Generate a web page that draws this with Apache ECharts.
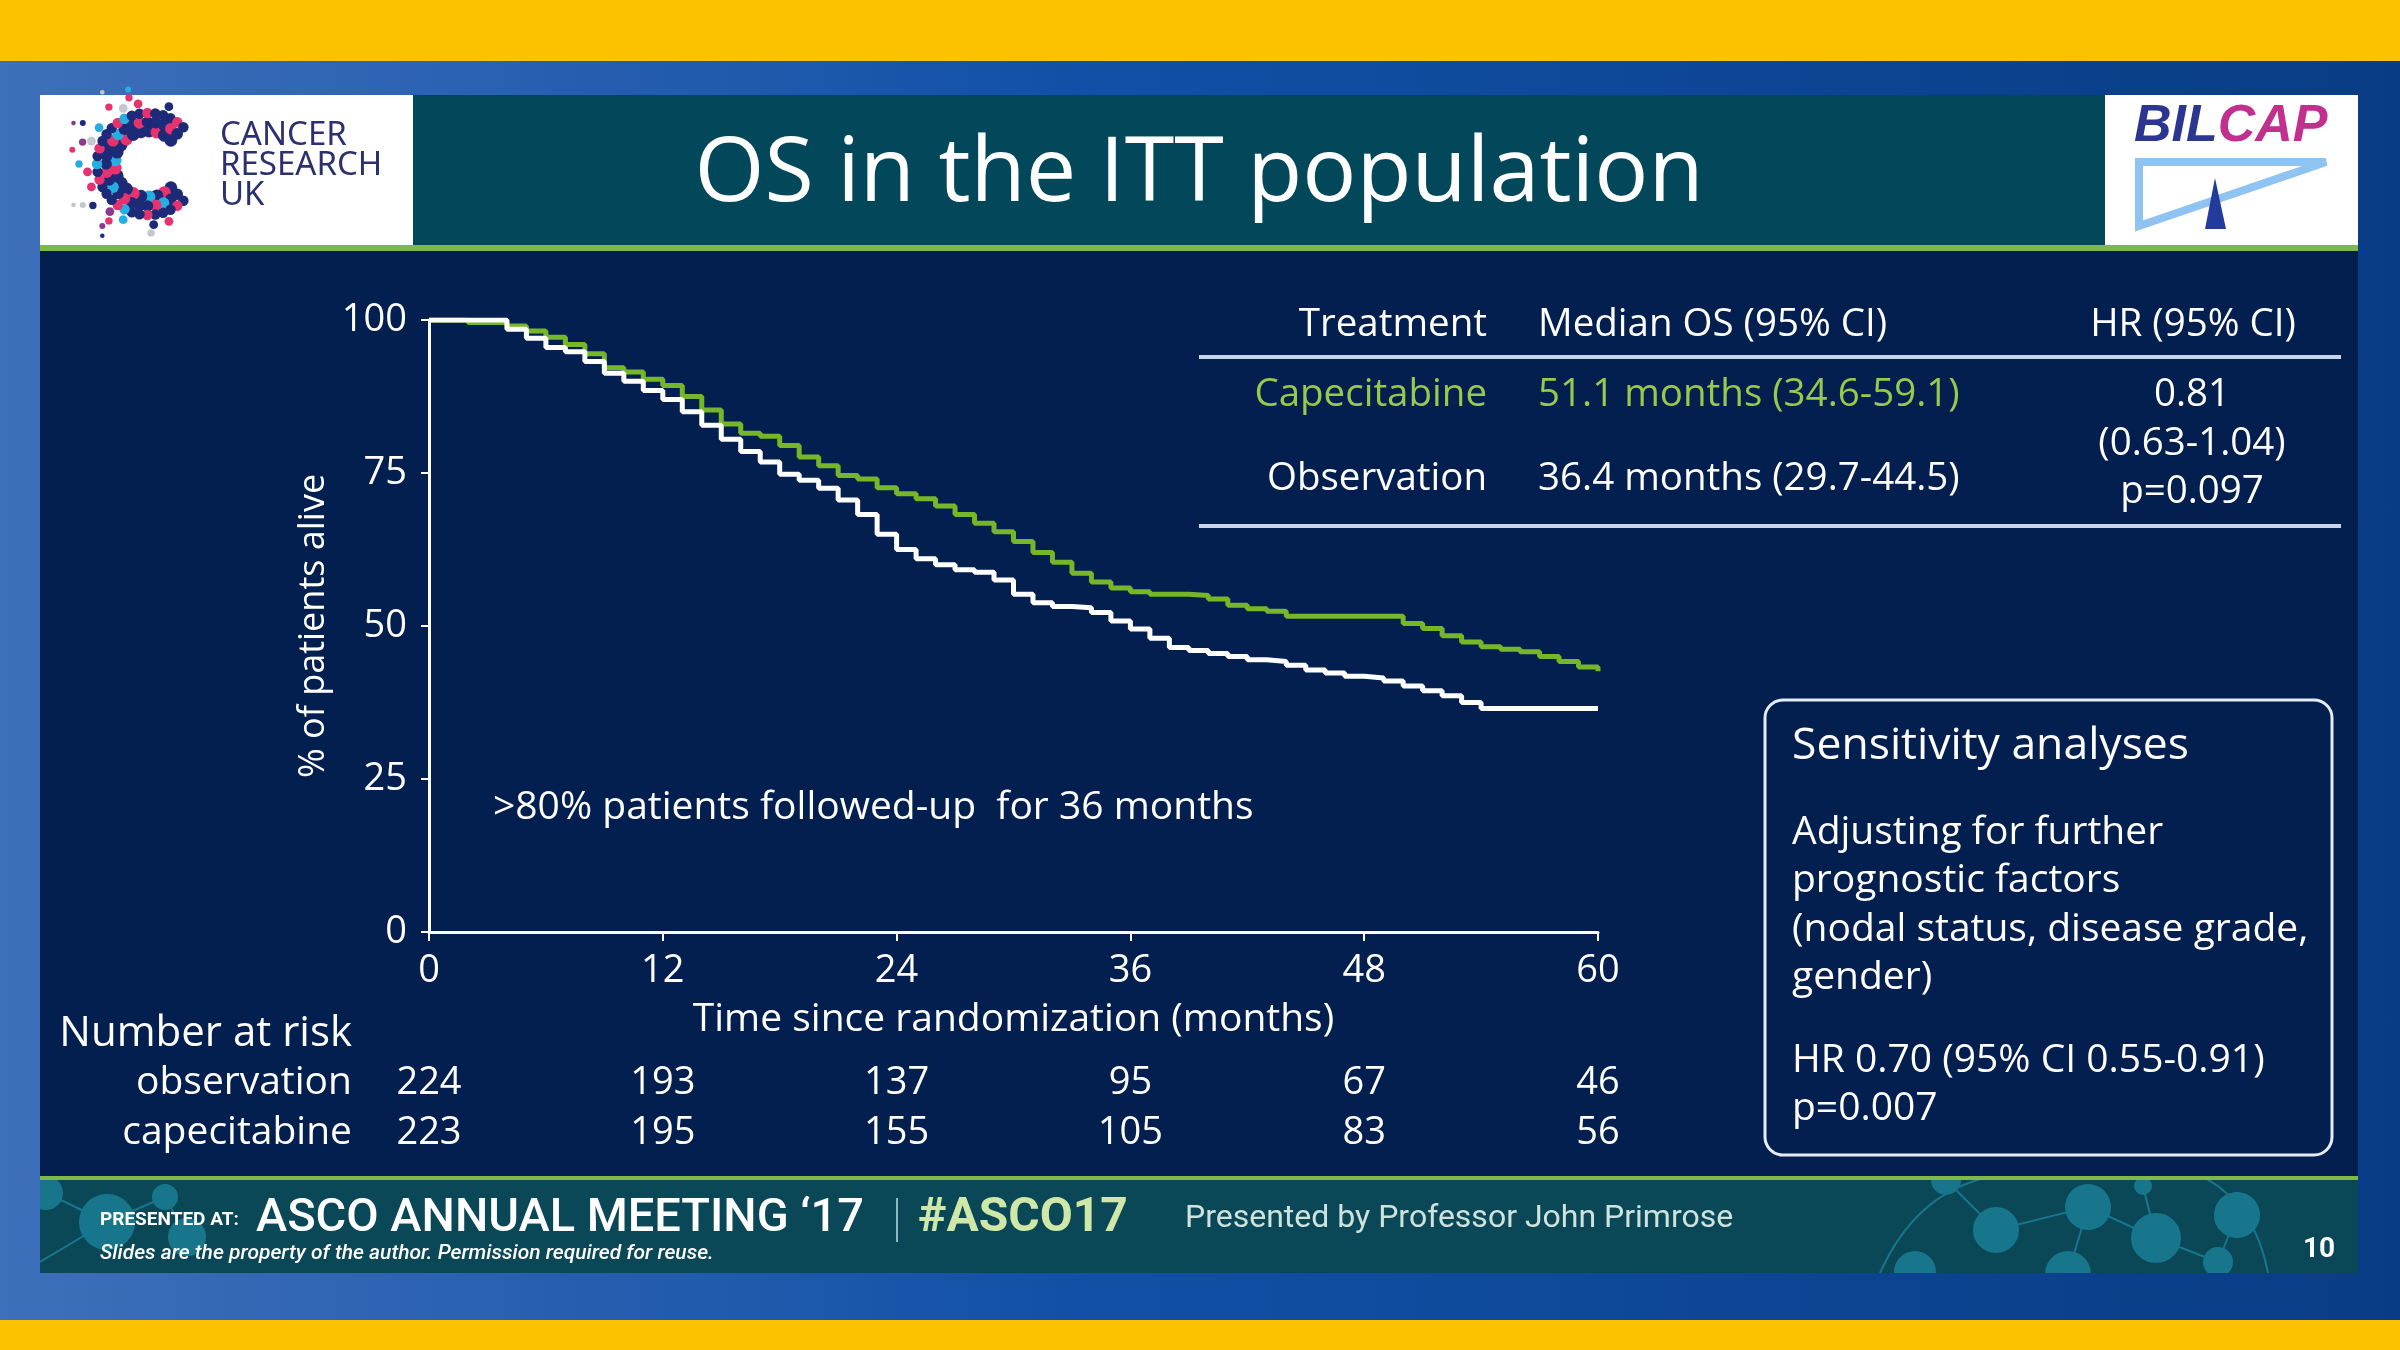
<!DOCTYPE html>
<html>
<head>
<meta charset="utf-8">
<script src="https://cdn.jsdelivr.net/npm/echarts@6/dist/echarts.min.js"></script>
<style>
  html, body { margin: 0; padding: 0; width: 2400px; height: 1350px; overflow: hidden; background: #fcc200; }
  #bg { position: absolute; left: 0; top: 0; }
  #chart { position: absolute; left: 0; top: 0; width: 2400px; height: 1350px; }
</style>
</head>
<body>
<svg id="bg" width="2400" height="1350" xmlns="http://www.w3.org/2000/svg">
  <defs>
    <linearGradient id="frameGrad" x1="0" x2="1" y1="0" y2="0">
      <stop offset="0" stop-color="#3e6fba"/>
      <stop offset="0.45" stop-color="#1150a6"/>
      <stop offset="1" stop-color="#093c84"/>
    </linearGradient>
    <clipPath id="footClip"><rect x="40" y="1180" width="2318" height="93"/></clipPath>
  </defs>
  <rect x="0" y="0" width="2400" height="61" fill="#fcc200"/>
  <rect x="0" y="61" width="2400" height="1259" fill="url(#frameGrad)"/>
  <rect x="0" y="1320" width="2400" height="30" fill="#fcc200"/>
  <!-- header -->
  <rect x="40" y="95" width="373" height="150" fill="#ffffff"/>
  <rect x="413" y="95" width="1692" height="150" fill="#03475a"/>
  <rect x="2105" y="95" width="253" height="150" fill="#ffffff"/>
  <rect x="40" y="245" width="2318" height="6" fill="#7dba4a"/>
  <!-- body -->
  <rect x="40" y="251" width="2318" height="925" fill="#021f4f"/>
  <!-- footer -->
  <rect x="40" y="1176" width="2318" height="4" fill="#7dba4a"/>
  <rect x="40" y="1180" width="2318" height="93" fill="#0a4757"/>
  <g clip-path="url(#footClip)" fill="#1a7f96" stroke="#1a7f96" stroke-width="2" opacity="0.85">
    <line x1="46" y1="1193" x2="107" y2="1222"/>
    <line x1="107" y1="1222" x2="165" y2="1197"/>
    <line x1="165" y1="1197" x2="187" y2="1237"/>
    <line x1="40" y1="1262" x2="107" y2="1222"/>
    <circle cx="107" cy="1222" r="27"/>
    <circle cx="165" cy="1197" r="12"/>
    <circle cx="187" cy="1237" r="18"/>
    <circle cx="46" cy="1193" r="16"/>
    <path d="M1880,1273 Q1915,1195 1985,1178" fill="none"/>
    <path d="M2268,1273 Q2255,1205 2205,1178" fill="none"/>
    <line x1="1946" y1="1180" x2="1996" y2="1230"/>
    <line x1="1996" y1="1230" x2="2088" y2="1207"/>
    <line x1="2088" y1="1207" x2="2156" y2="1238"/>
    <line x1="2156" y1="1238" x2="2218" y2="1262"/>
    <line x1="2068" y1="1274" x2="2088" y2="1207"/>
    <line x1="2143" y1="1186" x2="2156" y2="1238"/>
    <line x1="2237" y1="1215" x2="2218" y2="1262"/>
    <circle cx="1996" cy="1230" r="22"/>
    <circle cx="2088" cy="1207" r="22"/>
    <circle cx="2156" cy="1238" r="24"/>
    <circle cx="2237" cy="1215" r="22"/>
    <circle cx="2218" cy="1262" r="14"/>
    <circle cx="1915" cy="1272" r="20"/>
    <circle cx="2068" cy="1274" r="22"/>
    <circle cx="1946" cy="1180" r="14"/>
    <circle cx="2143" cy="1186" r="8"/>
  </g>
  <g id="crukDots"></g>
  <!-- BILCAP mark -->
  <polygon points="2139,162 2326,162 2139,226" fill="none" stroke="#8ec3f2" stroke-width="8"/>
  <polygon points="2215,178 2205,229 2226,229" fill="#233c9c"/>
  <!-- table rules and box -->
  <line x1="1199" y1="357" x2="2341" y2="357" stroke="#c9d5ea" stroke-width="4"/>
  <line x1="1199" y1="526" x2="2341" y2="526" stroke="#c9d5ea" stroke-width="4"/>
  <rect x="1765" y="700" width="567" height="455" rx="18" fill="none" stroke="#e6ecf5" stroke-width="3"/>
</svg>
<div id="chart"></div>
<script>
// Kaplan-Meier estimates, % alive by month
const months = [
  0, 1, 2, 3, 4, 5, 6, 7, 8, 9, 10, 11, 12, 13, 14, 15, 16, 17, 18, 19, 20,
  21, 22, 23, 24, 25, 26, 27, 28, 29, 30, 31, 32, 33, 34, 35, 36, 37, 38, 39, 40,
  41, 42, 43, 44, 45, 46, 47, 48, 49, 50, 51, 52, 53, 54, 55, 56, 57, 58, 59, 60
];
const observation = [
  100, 100, 100, 100, 98.5, 97, 95.5, 94.8, 93.2, 91.3, 90, 88.5, 87, 85, 82.8, 80.5, 78.5, 76.8, 74.8, 73.8, 72.5,
  70.6, 68.2, 65, 62.5, 61, 60, 59.2, 58.8, 57.5, 55.2, 53.8, 53.2, 53, 52.2, 50.8, 49.5, 48, 46.5, 46, 45.5,
  45, 44.5, 44.2, 43.6, 42.8, 42.3, 41.8, 41.5, 41, 40.2, 39.4, 38.6, 37.5, 36.5, 36.5, 36.5, 36.5, 36.5, 36.5, 36.5
];
const capecitabine = [
  100, 100, 99.6, 99.6, 99, 98.2, 97.2, 96, 94.5, 92.2, 91.5, 90.3, 89.3, 87.5, 85.3, 83, 81.5, 81, 79.5, 77.6, 76.2,
  74.6, 74, 72.6, 71.6, 70.8, 69.6, 68.2, 66.8, 65.4, 63.8, 62, 60.4, 58.6, 57.2, 56.2, 55.6, 55.2, 55.2, 55, 54.4,
  53.4, 52.8, 52.4, 51.6, 51.6, 51.6, 51.6, 51.6, 51.6, 50.4, 49.6, 48.4, 47.4, 46.6, 46.2, 45.8, 45, 44.2, 43.3, 42.6
];

// number at risk table
const riskMonths = [0, 12, 24, 36, 48, 60];
const riskObservation = [224, 193, 137, 95, 67, 46];
const riskCapecitabine = [223, 195, 155, 105, 83, 56];

const SANS = '"Open Sans", "Noto Sans", sans-serif';
const WHITE = '#ffffff';
const GREEN_LINE = '#76b72a';
const GREEN_TEXT = '#96c94c';

// Cancer Research UK logo dots (decoration only)
(function drawLogoDots() {
  const g = document.getElementById('crukDots');
  const cx = 148, cy = 164;
  const outer = ['#e6336f', '#c5c7d0', '#27aee0', '#1d2a78', '#e6336f', '#8b3a8f', '#c5c7d0'];
  let out = '';
  // thick navy C
  for (let ring = 0; ring < 3; ring++) {
    const r = 33 + ring * 9;
    const n = Math.round(r * 0.6);
    for (let k = 0; k < n; k++) {
      const t = (46 + (268 * k) / (n - 1)) * Math.PI / 180;
      const x = cx + r * Math.cos(t);
      const y = cy + r * Math.sin(t);
      const col = (k + ring * 2) % 4 === 1 ? '#e6336f' : ((k + ring) % 7 === 3 ? '#27aee0' : '#1d2a78');
      out += `<circle cx="${x.toFixed(1)}" cy="${y.toFixed(1)}" r="${(6.4 - ring * 0.6).toFixed(1)}" fill="${col}"/>`;
    }
  }
  // scattered outer dots
  for (let ring = 0; ring < 4; ring++) {
    const r = 61 + ring * 8;
    const span = 220 - ring * 35;
    const start = 180 - span / 2;
    const n = Math.round(span / (15 + ring * 4));
    for (let k = 0; k <= n; k++) {
      if ((k + ring) % 3 === 2) continue;
      const t = (start + (span * k) / n) * Math.PI / 180;
      const x = cx + r * Math.cos(t);
      const y = cy + r * Math.sin(t);
      out += `<circle cx="${x.toFixed(1)}" cy="${y.toFixed(1)}" r="${(4.4 - ring * 0.7).toFixed(1)}" fill="${outer[(k * 3 + ring) % outer.length]}"/>`;
    }
  }
  g.innerHTML = out;
})();

const chart = echarts.init(document.getElementById('chart'), null, { renderer: 'canvas' });

chart.setOption({
  backgroundColor: 'transparent',
  animation: false,
  grid: { left: 429, top: 320, width: 1169, height: 612 },
  xAxis: {
    type: 'value',
    min: 0,
    max: 60,
    interval: 12,
    axisLine: { lineStyle: { color: WHITE, width: 3 } },
    axisTick: { length: 9, lineStyle: { color: WHITE, width: 2 } },
    axisLabel: { color: WHITE, fontSize: 38, fontFamily: SANS, margin: 20 },
    splitLine: { show: false },
    name: 'Time since randomization (months)',
    nameLocation: 'middle',
    nameGap: 68,
    nameTextStyle: { color: WHITE, fontSize: 39, fontFamily: SANS }
  },
  yAxis: {
    type: 'value',
    min: 0,
    max: 100,
    interval: 25,
    axisLine: { show: true, lineStyle: { color: WHITE, width: 3 } },
    axisTick: { show: true, length: 8, lineStyle: { color: WHITE, width: 2 } },
    axisLabel: { color: WHITE, fontSize: 38, fontFamily: SANS, margin: 22 },
    splitLine: { show: false },
    name: '% of patients alive',
    nameLocation: 'middle',
    nameGap: 97,
    nameTextStyle: { color: WHITE, fontSize: 36, fontFamily: SANS }
  },
  series: [
    {
      name: 'Capecitabine',
      type: 'line',
      step: 'end',
      showSymbol: false,
      data: months.map((m, i) => [m, capecitabine[i]]),
      lineStyle: { color: GREEN_LINE, width: 5 },
      z: 3
    },
    {
      name: 'Observation',
      type: 'line',
      step: 'end',
      showSymbol: false,
      data: months.map((m, i) => [m, observation[i]]),
      lineStyle: { color: WHITE, width: 5 },
      z: 4
    }
  ]
});

function txt(text, x, y, size, opts) {
  const o = opts || {};
  return {
    type: 'text',
    x: x,
    y: y,
    z: 10,
    style: {
      text: text,
      fill: o.fill || WHITE,
      fontSize: size,
      fontFamily: o.family || SANS,
      fontWeight: o.weight || 'normal',
      fontStyle: o.style || 'normal',
      align: o.align || 'left',
      verticalAlign: 'middle'
    }
  };
}

const LOGO_FONT = '"Noto Sans", sans-serif';
const FOOT_FONT = 'Roboto, sans-serif';

const graphics = [
  // header
  txt('OS in the ITT population', 1199, 175, 90, { align: 'center' }),
  txt('CANCER', 220, 136, 33, { fill: '#2b3170', family: LOGO_FONT }),
  txt('RESEARCH', 220, 166, 33, { fill: '#2b3170', family: LOGO_FONT }),
  txt('UK', 220, 196, 33, { fill: '#2b3170', family: LOGO_FONT }),
  {
    type: 'text', x: 2134, y: 127, z: 10,
    style: {
      text: '{a|BIL}{b|CAP}',
      verticalAlign: 'middle',
      rich: {
        a: { fill: '#2c3590', fontSize: 52, fontWeight: 'bold', fontStyle: 'italic', fontFamily: '"Liberation Sans", Arial, sans-serif' },
        b: { fill: '#c2308e', fontSize: 52, fontWeight: 'bold', fontStyle: 'italic', fontFamily: '"Liberation Sans", Arial, sans-serif' }
      }
    }
  },
  // results table
  txt('Treatment', 1487, 325, 38.5, { align: 'right' }),
  txt('Median OS (95% CI)', 1538, 325, 38.5),
  txt('HR (95% CI)', 2193, 325, 38.5, { align: 'center' }),
  txt('Capecitabine', 1487, 395, 38.5, { align: 'right', fill: GREEN_TEXT }),
  txt('51.1 months (34.6-59.1)', 1538, 395, 38.5, { fill: GREEN_TEXT }),
  txt('0.81', 2192, 395, 38.5, { align: 'center' }),
  txt('(0.63-1.04)', 2192, 444, 38.5, { align: 'center' }),
  txt('Observation', 1487, 479, 38.5, { align: 'right' }),
  txt('36.4 months (29.7-44.5)', 1538, 479, 38.5),
  txt('p=0.097', 2192, 492, 38.5, { align: 'center' }),
  // sensitivity box
  txt('Sensitivity analyses', 1792, 746, 44.5),
  txt('Adjusting for further', 1792, 833, 39),
  txt('prognostic factors', 1792, 881, 39),
  txt('(nodal status, disease grade,', 1792, 930, 39),
  txt('gender)', 1792, 978, 39),
  txt('HR 0.70 (95% CI 0.55-0.91)', 1792, 1061, 39),
  txt('p=0.007', 1792, 1109, 39),
  // plot annotation
  txt('>80% patients followed-up  for 36 months', 493, 808, 39),
  // number at risk
  txt('Number at risk', 352, 1034, 42, { align: 'right' }),
  txt('observation', 352, 1083, 39, { align: 'right' }),
  txt('capecitabine', 352, 1133, 39, { align: 'right' }),
  // footer
  txt('PRESENTED AT:', 100, 1220, 19, { weight: 'bold', family: FOOT_FONT }),
  txt('ASCO ANNUAL MEETING \u201817', 256, 1219, 47, { weight: '500', family: FOOT_FONT }),
  txt('#ASCO17', 918, 1219, 48, { weight: 'bold', fill: '#cfe8a8', family: FOOT_FONT }),
  { type: 'line', z: 10, shape: { x1: 897, y1: 1198, x2: 897, y2: 1242 }, style: { stroke: '#8fb8c0', lineWidth: 2 } },
  txt('Slides are the property of the author. Permission required for reuse.', 100, 1254, 21, { style: 'italic', weight: '500', family: FOOT_FONT }),
  txt('Presented by Professor John Primrose', 1185, 1219, 32, { fill: '#cde3dc', family: FOOT_FONT }),
  txt('10', 2319, 1250, 28, { align: 'center', weight: 'bold', family: FOOT_FONT })
];

riskMonths.forEach((m, i) => {
  const px = chart.convertToPixel({ xAxisIndex: 0 }, m);
  graphics.push(txt(String(riskObservation[i]), px, 1083, 38, { align: 'center' }));
  graphics.push(txt(String(riskCapecitabine[i]), px, 1133, 38, { align: 'center' }));
});

chart.setOption({ graphic: graphics });
</script>
</body>
</html>
